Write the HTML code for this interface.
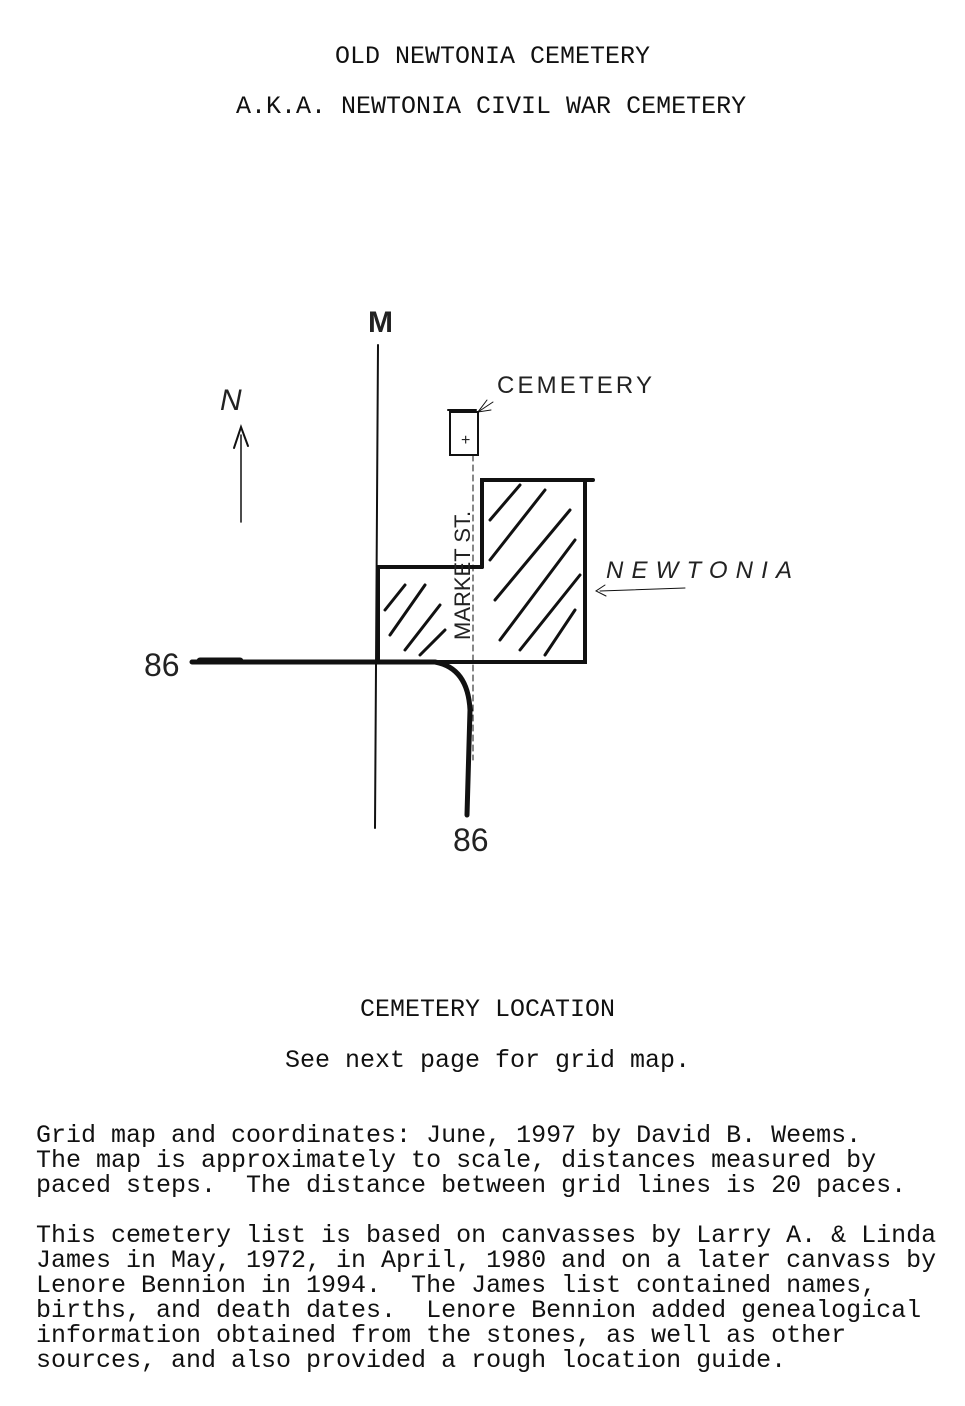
<!DOCTYPE html>
<html><head><meta charset="utf-8"><style>
html,body{margin:0;padding:0;background:#fff;}
body{width:965px;height:1406px;position:relative;overflow:hidden;font-family:"Liberation Mono",monospace;color:#111;}
.t{position:absolute;font-size:25px;line-height:25px;white-space:pre;}
svg{position:absolute;left:0;top:0;}
.h{font-family:"Liberation Sans",sans-serif;fill:#222;font-style:italic;}
</style></head><body>
<div class="t" style="left:335px;top:44px">OLD NEWTONIA CEMETERY</div>
<div class="t" style="left:236px;top:94px">A.K.A. NEWTONIA CIVIL WAR CEMETERY</div>
<div class="t" style="left:360px;top:997px">CEMETERY LOCATION</div>
<div class="t" style="left:285px;top:1048px">See next page for grid map.</div>
<div class="t" style="left:36px;top:1123px">Grid map and coordinates: June, 1997 by David B. Weems.
The map is approximately to scale, distances measured by
paced steps.  The distance between grid lines is 20 paces.

This cemetery list is based on canvasses by Larry A. &amp; Linda
James in May, 1972, in April, 1980 and on a later canvass by
Lenore Bennion in 1994.  The James list contained names,
births, and death dates.  Lenore Bennion added genealogical
information obtained from the stones, as well as other
sources, and also provided a rough location guide.</div>
<svg width="965" height="1406" viewBox="0 0 965 1406">
<g stroke="#111" fill="none" stroke-linecap="round">
<line x1="378" y1="345" x2="375" y2="828" stroke-width="2"/>
<line x1="241" y1="435" x2="241" y2="522" stroke-width="1.5"/>
<path d="M234 448 L241 427 L248 446" stroke-width="2"/>
<path d="M192 662 L435 662 Q468 668 470 710 L467 815" stroke-width="5"/>
<line x1="200" y1="661" x2="240" y2="661" stroke-width="7"/>
<path d="M378 662 L378 567 L482 567" stroke-width="4"/>
<path d="M482 567 L482 480 L593 480 M585 480 L585 662 L435 662" stroke-width="4"/>
<path d="M473 455 L473 760" stroke-width="1" stroke-dasharray="6,4"/>
<rect x="450" y="412" width="28" height="43" stroke-width="2"/>
<line x1="448" y1="410" x2="476" y2="410" stroke-width="2"/>
<path d="M478 412 L493 402" stroke-width="1"/>
<path d="M487 400 L478 412 L491 410" stroke-width="1"/>
<path d="M600 591 L685 588" stroke-width="1"/>
<path d="M605 585 L596 591 L606 596" stroke-width="1"/>
<g stroke-width="3">
<path d="M385 610 L405 585 M390 635 L425 585 M405 650 L440 605 M420 655 L445 630"/>
<path d="M490 520 L520 485 M490 560 L545 490 M495 600 L570 510 M500 640 L575 540 M520 650 L580 575 M545 655 L575 610"/>
</g>
</g>
<text x="368" y="332" class="h" style="font-size:30px;font-weight:bold;font-style:normal">M</text>
<text x="220" y="410" class="h" style="font-size:30px">N</text>
<text x="461" y="445" class="h" style="font-size:16px;font-style:normal">+</text>
<text x="497" y="393" class="h" style="font-size:24px;font-style:normal" textLength="155">CEMETERY</text>
<text x="606" y="578" class="h" style="font-size:24px" textLength="186">NEWTONIA</text>
<text x="144" y="676" class="h" style="font-size:32px;font-style:normal">86</text>
<text x="453" y="851" class="h" style="font-size:32px;font-style:normal">86</text>
<text transform="translate(470 640) rotate(-90)" class="h" style="font-size:22px;font-style:normal">MARKET ST.</text>
</svg>
</body></html>
